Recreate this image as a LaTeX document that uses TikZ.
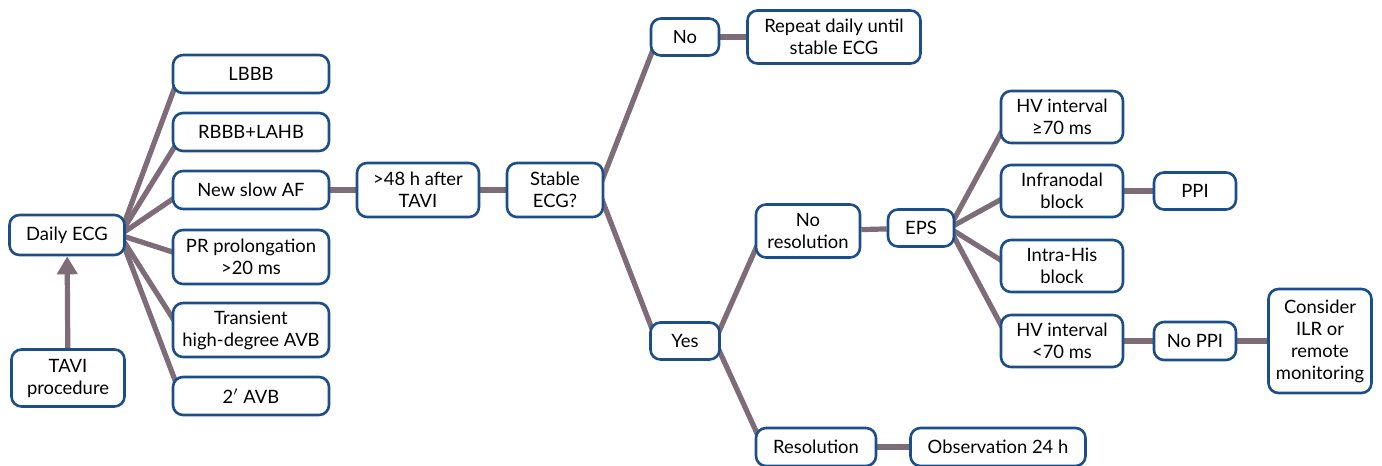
\documentclass[tikz,border=0pt]{standalone}
\usepackage{fontspec}
\setmainfont{Lato}
\usetikzlibrary{arrows.meta,backgrounds}
\definecolor{boxblue}{RGB}{28,78,138}
\definecolor{linkgray}{RGB}{126,108,121}
\begin{document}
\begin{tikzpicture}[
  x=0.5pt, y=-0.5pt,
  every node/.style={draw=boxblue, line width=1.3pt, rounded corners=5pt, fill=white,
    align=center, inner sep=1pt, font=\fontsize{9.2}{11}\selectfont},
  link/.style={draw=linkgray, line width=2.6pt},
  uparrow/.style={link, -{Triangle[width=10pt,length=9pt]}}
]
\useasboundingbox (0,0) rectangle (1382,466);
% left part
\node (daily) [minimum width=57.5pt, minimum height=20pt] at (67,235) {Daily ECG};
\node (tavi) [minimum width=56.5pt, minimum height=28.5pt] at (68,378) {TAVI\\procedure};
\node (lbbb) [minimum width=78pt, minimum height=19pt] at (251,74) {LBBB};
\node (rbbb) [minimum width=78pt, minimum height=19pt] at (251,132) {RBBB+LAHB};
\node (slowaf) [minimum width=78pt, minimum height=19pt] at (251,190) {New slow AF};
\node (prlong) [minimum width=78pt, minimum height=27pt] at (251,257) {PR prolongation\\>20 ms};
\node (highavb) [minimum width=78pt, minimum height=27pt] at (251,330) {Transient\\high-degree AVB};
\node (avbtwo) [minimum width=78pt, minimum height=19pt] at (251,396) {2$'$ AVB};
% middle part
\node (after) [minimum width=61pt, minimum height=27pt] at (418,190) {>48 h after\\TAVI};
\node (stable) [minimum width=48pt, minimum height=27pt] at (555,190) {Stable\\ECG?};
\node (no) [minimum width=34pt, minimum height=18.5pt] at (685,37) {No};
\node (repeat) [minimum width=86.5pt, minimum height=26.5pt] at (834,37) {Repeat daily until\\stable ECG};
\node (yes) [minimum width=34.5pt, minimum height=18.5pt] at (685,341) {Yes};
\node (noresol) [minimum width=52pt, minimum height=26.5pt] at (808,231) {No\\resolution};
\node (eps) [minimum width=33pt, minimum height=18.5pt] at (921,228) {EPS};
\node (resol) [minimum width=60pt, minimum height=19pt] at (816,447) {Resolution};
\node (observe) [minimum width=87.5pt, minimum height=19pt] at (998,447) {Observation 24 h};
% right part
\node (hvhigh) [minimum width=61pt, minimum height=26pt] at (1062,117) {HV interval\\≥70 ms};
\node (infra) [minimum width=61pt, minimum height=26pt] at (1062,191) {Infranodal\\block};
\node (ppi) [minimum width=41pt, minimum height=18.5pt] at (1195,191) {PPI};
\node (intrahis) [minimum width=61pt, minimum height=26pt] at (1062,266) {Intra-His\\block};
\node (hvlow) [minimum width=61pt, minimum height=26pt] at (1062,341) {HV interval\\<70 ms};
\node (noppi) [minimum width=41pt, minimum height=19pt] at (1195,341) {No PPI};
\node (consider) [minimum width=51.5pt, minimum height=52pt] at (1320,341) {Consider\\ILR or\\remote\\monitoring};
% connectors
\begin{pgfonlayer}{background}
\foreach \b/\dy in {lbbb/-5.5, rbbb/-6.5, slowaf/-3.5, prlong/2, highavb/3.5, avbtwo/7}
  \draw[link] ([xshift=-3pt]daily.east) -- ([xshift=2pt,yshift=\dy pt]\b.west);
\foreach \b/\dy in {hvhigh/-5.5, infra/-3.5, intrahis/2, hvlow/5.5}
  \draw[link] ([xshift=-3pt]eps.east) -- ([xshift=2pt,yshift=\dy pt]\b.west);
\draw[link] ([xshift=-3pt]stable.east) -- ([xshift=2pt,yshift=-5.5pt]no.west);
\draw[link] ([xshift=-3pt]stable.east) -- ([xshift=2pt,yshift=4.5pt]yes.west);
\draw[link] ([xshift=-3pt]yes.east) -- ([xshift=2pt,yshift=-5.5pt]noresol.west);
\draw[link] ([xshift=-3pt]yes.east) -- ([xshift=2pt,yshift=5pt]resol.west);
\draw[link] (slowaf) -- (after);
\draw[link] (after) -- (stable);
\draw[link] (no) -- (repeat);
\draw[link] (noresol) -- (eps);
\draw[link] (resol) -- (observe);
\draw[link] (infra) -- (ppi);
\draw[link] (hvlow) -- (noppi);
\draw[link] (noppi) -- (consider);
\end{pgfonlayer}
\draw[uparrow] (tavi) -- (daily);
\end{tikzpicture}
\end{document}
